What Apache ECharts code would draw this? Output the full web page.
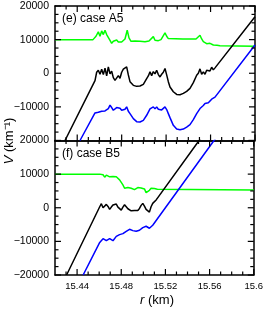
<!DOCTYPE html>
<html><head><meta charset="utf-8">
<script src="https://cdn.jsdelivr.net/npm/echarts@6/dist/echarts.min.js"></script>
<style>html,body{margin:0;padding:0;background:#fff}#c{width:266px;height:313px}</style>
</head><body><div id="c"></div>
<script>
// ---- data (r in km, V in km^-1) ----
const xTicks = [15.44, 15.48, 15.52, 15.56, 15.6];
const yTicks = [-20000, -10000, 0, 10000, 20000];
const panelLabels = ['(e) case A5', '(f) case B5'];

const greenA5 = [[15.42,10000],[15.4542,10000],[15.4569,11000],[15.459,12300],[15.4605,11000],[15.462,12600],[15.4635,11500],[15.465,12800],[15.4665,11500],[15.468,12000],[15.4695,9800],[15.471,8900],[15.4725,9500],[15.474,9200],[15.4755,9900],[15.477,9300],[15.4785,8900],[15.48,9300],[15.4815,9400],[15.483,10200],[15.485,12800],[15.4866,10500],[15.4884,9500],[15.492,9600],[15.4965,9500],[15.501,9400],[15.5028,8900],[15.5046,9600],[15.5064,9300],[15.5085,10900],[15.51,9800],[15.5115,10200],[15.513,9700],[15.5154,10000],[15.5172,10500],[15.519,12000],[15.5205,11000],[15.522,10300],[15.535,10200],[15.5469,10200],[15.5487,10600],[15.5505,11300],[15.552,10200],[15.5535,9400],[15.555,9800],[15.5565,8800],[15.558,9300],[15.5595,8900],[15.561,9100],[15.5625,8400],[15.564,8800],[15.5658,8300],[15.5685,8200],[15.6,8000]];
const blackA5 = [[15.429,-20000],[15.456,-2200],[15.4575,300],[15.459,900],[15.4605,-300],[15.462,1200],[15.4635,-400],[15.465,1500],[15.4665,-800],[15.468,1900],[15.4695,-200],[15.471,600],[15.4725,-1300],[15.474,-2100],[15.4755,-1600],[15.477,-700],[15.4785,-1500],[15.48,300],[15.4815,1200],[15.483,1000],[15.4845,1900],[15.486,-500],[15.4875,-2500],[15.4905,-3600],[15.4935,-3900],[15.4965,-3800],[15.4995,-3300],[15.501,-3000],[15.5025,-1600],[15.504,-800],[15.5055,400],[15.507,-700],[15.5085,500],[15.51,-200],[15.5115,900],[15.513,-400],[15.5145,-1100],[15.516,-300],[15.5175,300],[15.519,1400],[15.5205,-500],[15.522,-2500],[15.5235,-4100],[15.5265,-5500],[15.5295,-6300],[15.5325,-6400],[15.5355,-6000],[15.5385,-5400],[15.5415,-4500],[15.5445,-2800],[15.5475,-600],[15.549,0],[15.5505,1300],[15.552,-300],[15.5535,400],[15.555,-300],[15.5565,900],[15.558,500],[15.5595,700],[15.561,1800],[15.5625,1000],[15.564,1600],[15.5655,1900],[15.6,16800]];
const blueA5 = [[15.4425,-20000],[15.456,-11800],[15.4575,-11300],[15.459,-11600],[15.4605,-12000],[15.462,-11300],[15.4635,-11800],[15.465,-11200],[15.4665,-11700],[15.468,-10500],[15.4695,-9500],[15.471,-10200],[15.4725,-11000],[15.474,-10800],[15.4755,-10200],[15.477,-10000],[15.4785,-10400],[15.48,-11000],[15.4815,-10500],[15.483,-10700],[15.4845,-10000],[15.486,-11300],[15.4875,-12000],[15.4905,-13500],[15.4935,-14400],[15.4965,-14500],[15.4995,-14000],[15.5025,-12500],[15.5055,-10600],[15.507,-10300],[15.5085,-10000],[15.51,-10600],[15.5115,-10000],[15.513,-10700],[15.5145,-10400],[15.516,-10900],[15.5175,-10500],[15.519,-10000],[15.5205,-10800],[15.522,-12000],[15.5235,-13200],[15.5265,-15500],[15.5295,-16600],[15.5325,-16800],[15.5355,-16600],[15.5385,-16000],[15.5415,-15300],[15.5445,-13800],[15.5475,-12000],[15.5505,-10500],[15.552,-10700],[15.5535,-9600],[15.555,-9000],[15.5565,-9500],[15.558,-8800],[15.5595,-8900],[15.561,-7700],[15.5625,-7400],[15.564,-7100],[15.6,8400]];

const greenB5 = [[15.42,10000],[15.4605,10000],[15.462,10500],[15.4635,9800],[15.465,9100],[15.4665,9700],[15.468,10000],[15.4695,9200],[15.471,8700],[15.4725,9300],[15.474,9800],[15.4755,9200],[15.477,8800],[15.4785,8300],[15.48,7800],[15.4815,6800],[15.483,5800],[15.4845,6200],[15.486,6000],[15.4875,6300],[15.489,5800],[15.4905,5700],[15.492,5400],[15.4935,5700],[15.495,6000],[15.4965,5600],[15.498,5900],[15.4995,6200],[15.501,5600],[15.5025,4500],[15.504,4300],[15.5055,5200],[15.507,5800],[15.5085,5600],[15.51,5700],[15.5127,5500],[15.6,5300]];
const blackB5 = [[15.4305,-20000],[15.4605,300],[15.462,1200],[15.4635,0],[15.465,-400],[15.4665,1000],[15.468,400],[15.4695,-500],[15.471,200],[15.4725,800],[15.474,1300],[15.4755,1100],[15.477,200],[15.4785,-300],[15.48,-700],[15.4815,200],[15.483,900],[15.4845,400],[15.486,-300],[15.4875,-600],[15.489,-900],[15.4905,-1200],[15.492,-800],[15.4935,-300],[15.495,-800],[15.4965,-200],[15.498,700],[15.4995,1300],[15.501,500],[15.5025,-500],[15.504,-900],[15.5055,-1300],[15.507,300],[15.5085,1300],[15.51,1800],[15.5118,2400],[15.5505,20000],[15.556,22200]];
const blueB5 = [[15.4455,-20000],[15.4605,-10300],[15.462,-9800],[15.4635,-9200],[15.465,-9400],[15.4665,-9800],[15.468,-9500],[15.4695,-9200],[15.471,-9500],[15.4725,-9800],[15.474,-9300],[15.4755,-8500],[15.477,-8200],[15.4785,-8000],[15.48,-7900],[15.4815,-7700],[15.483,-7400],[15.4845,-7000],[15.486,-6800],[15.4875,-6400],[15.489,-6200],[15.4905,-6800],[15.492,-7200],[15.4935,-7000],[15.495,-6800],[15.4965,-6700],[15.498,-6300],[15.4995,-5900],[15.501,-5600],[15.5025,-5500],[15.504,-5800],[15.5055,-6100],[15.507,-5800],[15.5085,-5200],[15.564,20000],[15.5685,21800]];

// ---- chart ----
const FONT = 'Liberation Sans';
const grids = [
  {left: 55, top: 6, width: 200, height: 134.5},
  {left: 55, top: 140.5, width: 200, height: 134.5}
];
const xAxes = [], yAxes = [];
const xMain = [], yMain = [];
grids.forEach((g, gi) => {
  xMain[gi] = xAxes.length;
  xAxes.push({
    type: 'value', gridIndex: gi, position: 'bottom', min: 15.42, max: 15.6, interval: 0.01,
    axisLine: {show: true, onZero: false, lineStyle: {color: '#000', width: 1.5}}, splitLine: {show: false},
    axisTick: {show: false},
    axisLabel: {show: gi === 1, customValues: xTicks, color: '#000', fontFamily: FONT, fontSize: 9.5, margin: 6,
      formatter: v => String(+v.toFixed(2))}
  });
  xAxes.push({
    type: 'value', gridIndex: gi, position: 'top', min: 15.42, max: 15.6, interval: 0.01,
    axisLine: {show: true, onZero: false, lineStyle: {color: '#000', width: 1.5}}, splitLine: {show: false},
    axisTick: {show: false}, axisLabel: {show: false}
  });
  ['left', 'right'].forEach(pos => {
    if (pos === 'left') yMain[gi] = yAxes.length;
    yAxes.push({
      type: 'value', gridIndex: gi, position: pos, min: -20000, max: 20000, interval: 10000,
      axisLine: {show: true, onZero: false, lineStyle: {color: '#000', width: 1.5}}, splitLine: {show: false},
      axisTick: {show: false}, minorTick: {show: false},
      axisLabel: {show: pos === 'left', color: '#000', fontFamily: FONT, fontSize: 10.5, margin: 6,
        showMinLabel: gi === 1,
        formatter: v => (v < 0 ? '\u2212' + Math.abs(v) : String(v))}
    });
  });
});

// tick marks (inward, all four sides), placed through the axis scales
const tickItems = [];
xTicks.forEach(v => tickItems.push([0, v, 6]));
for (let k = 1; k < 18; k++) {
  const v = +(15.42 + 0.01 * k).toFixed(2);
  if (xTicks.indexOf(v) < 0) tickItems.push([0, v, 3.5]);
}
for (let v = -20000; v <= 20000; v += 2500) {
  tickItems.push([1, v, (yTicks.indexOf(v) >= 0) ? 6 : 3.5]);
}
function tickSeries(gi) {
  return {
    type: 'custom', xAxisIndex: xMain[gi], yAxisIndex: yMain[gi], silent: true, clip: false, z: 5,
    animation: false, data: tickItems,
    encode: {x: 1, y: 1},
    renderItem: function (params, api) {
      const cs = params.coordSys;
      const kind = api.value(0), v = api.value(1), len = api.value(2);
      const st = {stroke: '#000', lineWidth: 1.2};
      if (kind === 0) {
        const px = api.coord([v, 0])[0];
        const yb = cs.y + cs.height, yt = cs.y;
        return {type: 'group', children: [
          {type: 'line', shape: {x1: px, y1: yb, x2: px, y2: yb - len}, style: st},
          {type: 'line', shape: {x1: px, y1: yt, x2: px, y2: yt + len}, style: st}
        ]};
      }
      const py = api.coord([15.5, v])[1];
      const xl = cs.x, xr = cs.x + cs.width;
      return {type: 'group', children: [
        {type: 'line', shape: {x1: xl, y1: py, x2: xl + len, y2: py}, style: st},
        {type: 'line', shape: {x1: xr, y1: py, x2: xr - len, y2: py}, style: st}
      ]};
    }
  };
}

function ser(data, color, gi) {
  return {type: 'line', data: data, xAxisIndex: xMain[gi], yAxisIndex: yMain[gi],
    showSymbol: false, symbol: 'none', clip: true, animation: false,
    lineStyle: {color: color, width: 1.5}, z: 3};
}
const series = [
  ser(greenA5, '#00ff00', 0), ser(blackA5, '#000000', 0), ser(blueA5, '#0000ff', 0),
  ser(greenB5, '#00ff00', 1), ser(blackB5, '#000000', 1), ser(blueB5, '#0000ff', 1),
  tickSeries(0), tickSeries(1)
];
const chart = echarts.init(document.getElementById('c'), null, {renderer: 'canvas'});
chart.setOption({
  animation: false,
  grid: grids,
  xAxis: xAxes,
  yAxis: yAxes,
  series: series,
  graphic: [
    {type: 'text', left: 62, top: 13, style: {text: panelLabels[0], fontFamily: FONT, fontSize: 12, fill: '#000'}},
    {type: 'text', left: 62, top: 148, style: {text: panelLabels[1], fontFamily: FONT, fontSize: 12, fill: '#000'}},
    {type: 'text', x: 157, y: 300, style: {
      text: '{i|r} (km)', fontFamily: FONT, fontSize: 13, fill: '#000', align: 'center', verticalAlign: 'middle',
      rich: {i: {fontStyle: 'italic', fontFamily: FONT, fontSize: 13}}}},
    {type: 'text', x: 9, y: 141, rotation: Math.PI / 2, style: {
      text: '{i|V} (km\u207B\u00B9)', fontFamily: FONT, fontSize: 13, fill: '#000', align: 'center', verticalAlign: 'middle',
      rich: {i: {fontStyle: 'italic', fontFamily: FONT, fontSize: 13}}}}
  ]
});
</script>
</body></html>
